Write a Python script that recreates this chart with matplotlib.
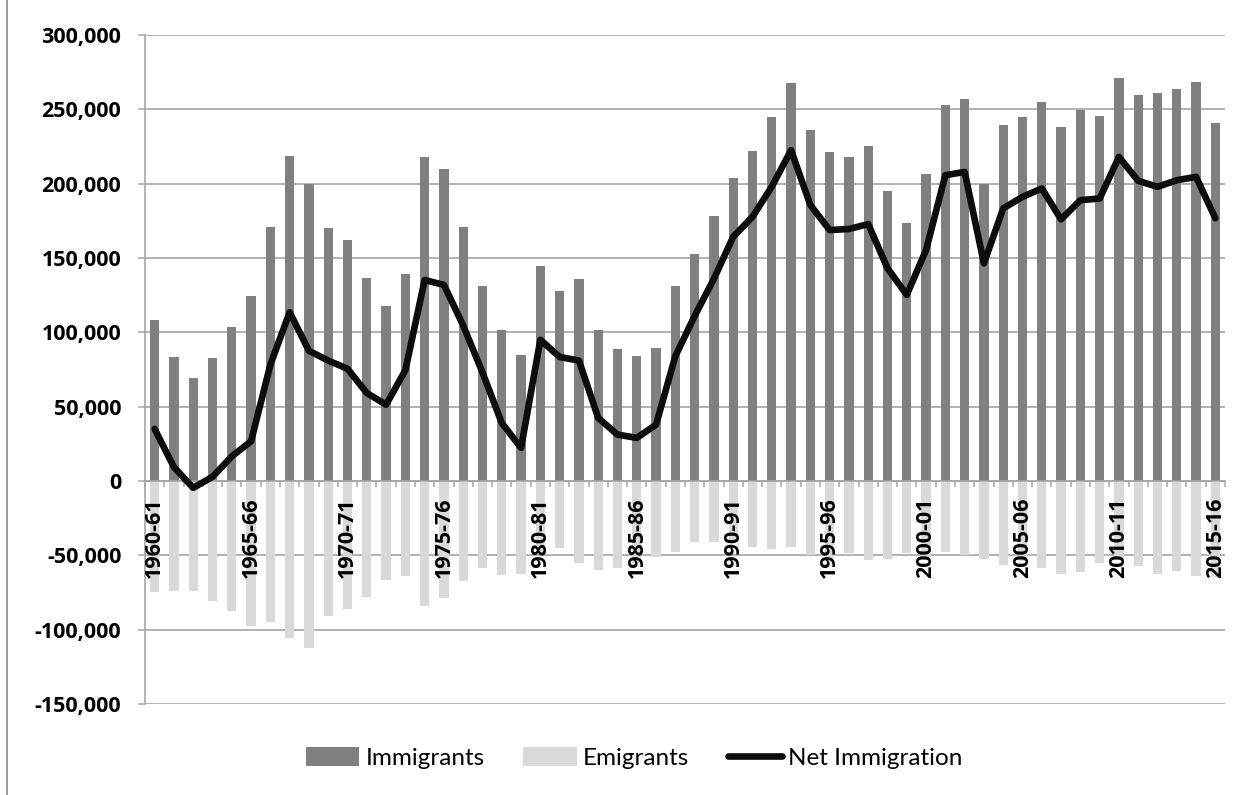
import matplotlib.pyplot as plt
import matplotlib.ticker as mticker
import numpy as np

# Annual migration flows, thousands of people
years = [f"{y}-{(y + 1) % 100:02d}" for y in range(1960, 2016)]

immigrants = [108.2, 83.4, 69.3, 82.7, 103.7, 124.7, 170.6, 218.3, 200.1, 170.3,
              162.1, 136.8, 117.8, 139.3, 218.0, 209.7, 170.6, 131.4, 101.7, 84.9,
              144.4, 127.6, 135.9, 101.9, 88.9, 84.4, 89.4, 131.4, 152.7, 178.0,
              203.9, 222.0, 244.6, 267.4, 235.9, 221.3, 218.0, 225.4, 194.8, 173.7,
              206.2, 252.9, 256.9, 200.1, 239.7, 244.8, 254.9, 238.4, 249.8, 245.8,
              271.0, 259.4, 260.7, 263.6, 268.3, 241.1]

emigrants = [-74.6, -74.2, -74.0, -80.4, -87.4, -97.4, -94.8, -105.5, -112.6, -90.5,
             -86.2, -78.0, -66.3, -64.1, -84.0, -78.4, -67.0, -58.3, -63.4, -62.8,
             -49.4, -45.3, -55.1, -59.8, -58.3, -55.4, -50.9, -48.0, -41.3, -40.8,
             -39.6, -44.2, -46.0, -44.4, -49.8, -52.5, -48.5, -53.1, -52.2, -48.2,
             -50.8, -47.8, -49.6, -52.5, -56.3, -53.7, -58.3, -62.3, -61.4, -55.4,
             -53.0, -57.2, -62.3, -60.7, -63.9, -64.4]

net_immigration = [35.0, 9.3, -4.6, 2.8, 16.6, 26.7, 78.2, 113.5, 87.6, 81.0,
                   75.5, 59.2, 51.3, 74.5, 135.2, 131.9, 104.5, 73.0, 39.0, 22.3,
                   95.0, 83.4, 81.0, 42.4, 31.2, 29.0, 37.9, 84.0, 111.0, 136.0,
                   164.3, 177.7, 198.0, 222.5, 185.6, 168.8, 169.5, 172.8, 143.1, 125.2,
                   155.4, 205.7, 207.9, 146.4, 183.4, 191.1, 196.8, 176.0, 188.9, 190.0,
                   218.0, 201.9, 197.9, 202.3, 204.6, 176.7]

imm = np.array(immigrants) * 1000
emi = np.array(emigrants) * 1000
net = np.array(net_immigration) * 1000
x = np.arange(len(years))

plt.rcParams['font.family'] = ['Lato', 'DejaVu Sans']
tick_font = dict(family='Open Sans', weight='bold', size=15.5)

fig = plt.figure(figsize=(12.53, 7.95), dpi=100)
ax = fig.add_axes([145 / 1253, 91 / 795, 1080 / 1253, 669 / 795])

grid_col = '#a6a6a6'

b1 = ax.bar(x, imm, width=0.48, color='#808080', label='Immigrants', zorder=1)
b2 = ax.bar(x, emi, width=0.48, color='#d9d9d9', label='Emigrants', zorder=1)
ln, = ax.plot(x, net, color='#0d0d0d', lw=4.8, solid_joinstyle='round',
              solid_capstyle='round', label='Net Immigration', zorder=3)

ax.set_xlim(-0.5, len(years) - 0.5)
ax.set_ylim(-150000, 300000)

# horizontal gridlines behind the bars, category labels on top of them
ax.set_axisbelow(True)
ax.xaxis.set_zorder(2.5)
ax.yaxis.grid(True, color=grid_col, lw=1.2)

yticks = np.arange(-150000, 300001, 50000)
ax.set_yticks(yticks)
ax.set_yticklabels([f"{v:,.0f}" for v in yticks], fontdict=tick_font)
ax.tick_params(axis='y', length=5, width=1.1, color=grid_col, pad=12)

# x axis sits on zero, tick marks between categories
ax.spines['bottom'].set_position(('data', 0))
ax.spines['bottom'].set_color(grid_col)
ax.spines['bottom'].set_linewidth(1.2)
ax.spines['left'].set_color(grid_col)
ax.spines['left'].set_linewidth(1.2)
ax.spines['top'].set_visible(False)
ax.spines['right'].set_visible(False)

ax.set_xticks(np.arange(-0.5, len(years), 1.0))
ax.set_xticklabels([])
ax.tick_params(axis='x', which='major', length=4.5, width=1.1, color=grid_col)
ax.set_xticks(x[::5], minor=True)
ax.set_xticklabels(years[::5], minor=True, rotation=90, fontdict=tick_font)
ax.tick_params(axis='x', which='minor', length=0, pad=12)

fig.legend([b1, b2, ln], ['Immigrants', 'Emigrants', 'Net Immigration'],
           loc='center', bbox_to_anchor=(0.506, 0.047), ncol=3,
           frameon=False, fontsize=17.5, handlelength=2.2,
           handleheight=0.85, handletextpad=0.25, columnspacing=1.6)

# chart-area border on the left
fig.add_artist(plt.Line2D([7 / 1253, 7 / 1253], [0, 1], color='#8c8c8c', lw=1.2))

fig.savefig('out.png', dpi=100, facecolor='white')
